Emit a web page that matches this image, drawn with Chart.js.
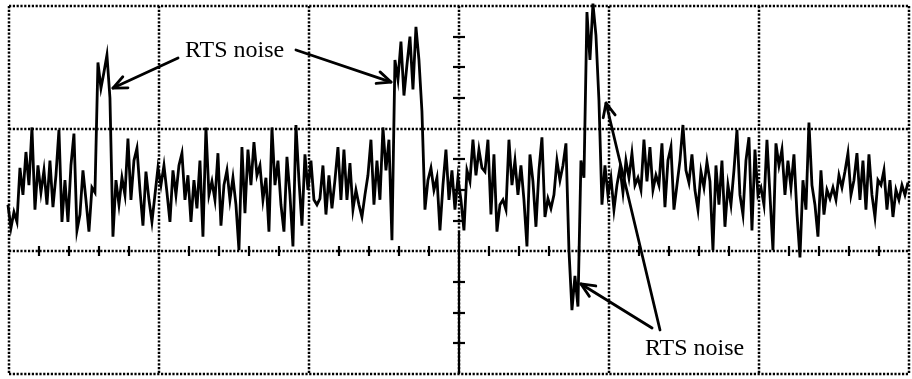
<!DOCTYPE html>
<html>
<head>
<meta charset="utf-8">
<script src="https://cdn.jsdelivr.net/npm/chart.js@4.4.1/dist/chart.umd.min.js"></script>
<style>
    body { margin: 0; background: #fff; }
    #wrap { width: 912px; height: 379px; position: relative; }
</style>
</head>
<body>
<div id="wrap"><canvas id="scopeChart"></canvas></div>
<script>
// scope trace, x in divisions, y in divisions (0 = trace centre)
const timeStart = -0.027;
const timeStep = 0.02;
const trace = [
    0.10, -0.12, -0.31, -0.18, -0.26, 0.18, -0.04, 0.31, 0.04, 0.51,
    -0.16, 0.20, -0.02, 0.16, -0.12, 0.24, -0.14, 0.12, 0.49, -0.26,
    0.08, -0.26, 0.20, 0.46, -0.33, -0.20, 0.16, -0.08, -0.34, 0.02,
    -0.02, 1.04, 0.83, 0.96, 1.10, 0.75, -0.38, 0.08, -0.12, 0.10,
    -0.04, 0.42, -0.08, 0.24, 0.34, 0.00, -0.29, 0.15, -0.08, -0.26,
    -0.04, 0.18, 0.04, 0.20, -0.02, -0.26, 0.16, -0.04, 0.20, 0.30,
    -0.08, 0.12, -0.26, 0.08, -0.15, 0.24, -0.38, 0.51, -0.04, 0.07,
    -0.08, 0.30, -0.29, 0.04, 0.16, -0.08, 0.10, -0.12, -0.49, 0.35,
    -0.19, 0.33, 0.04, 0.39, 0.12, 0.20, -0.08, 0.10, -0.34, 0.51,
    0.04, 0.24, -0.12, -0.34, 0.27, -0.04, -0.46, 0.53, 0.08, -0.29,
    0.29, 0.00, 0.24, -0.08, -0.12, -0.07, 0.20, -0.20, 0.12, -0.15,
    0.08, 0.35, -0.08, 0.33, -0.08, 0.22, -0.16, 0.00, -0.12, -0.22,
    -0.04, 0.12, 0.41, -0.12, 0.24, -0.08, 0.51, 0.16, 0.41, -0.41,
    1.06, 0.90, 1.21, 0.77, 1.02, 1.25, 0.82, 1.33, 1.06, 0.64,
    -0.16, 0.08, 0.18, 0.00, 0.10, -0.33, 0.04, 0.33, -0.08, 0.16,
    -0.16, 0.10, -0.08, -0.33, 0.16, 0.07, 0.41, 0.12, 0.33, 0.18,
    0.15, 0.41, -0.20, 0.29, -0.34, -0.12, -0.08, -0.16, 0.41, 0.04,
    0.24, -0.04, 0.20, -0.08, -0.46, 0.29, 0.07, -0.30, 0.16, 0.43,
    -0.22, -0.07, -0.15, -0.04, 0.24, 0.08, 0.20, 0.38, -0.49, -0.98,
    -0.70, -0.95, 0.24, 0.10, 1.45, 1.06, 1.52, 1.26, 0.73, -0.12,
    0.20, -0.04, 0.10, -0.16, 0.04, 0.18, -0.02, 0.24, 0.10, 0.30,
    0.04, 0.10, 0.00, 0.41, 0.07, 0.35, 0.00, 0.12, 0.04, 0.38,
    -0.14, 0.24, 0.35, -0.16, 0.04, 0.24, 0.53, 0.16, 0.06, 0.29,
    0.00, -0.16, 0.15, 0.02, 0.23, 0.07, -0.49, 0.20, -0.12, 0.24,
    -0.30, 0.04, -0.12, 0.16, 0.49, -0.04, -0.20, 0.24, 0.43, -0.33,
    0.33, -0.04, 0.02, -0.12, 0.41, -0.04, -0.49, 0.38, 0.20, 0.33,
    -0.04, 0.24, 0.02, 0.29, -0.19, -0.55, 0.08, -0.16, 0.55, 0.04,
    -0.12, -0.38, 0.16, -0.20, 0.00, -0.07, 0.02, -0.08, 0.12, 0.02,
    0.15, 0.30, -0.04, 0.08, 0.30, -0.08, 0.24, -0.16, 0.29, -0.04,
    -0.22, 0.08, 0.04, 0.16, -0.16, 0.08, -0.22, 0.00, -0.08, 0.04,
    -0.04, 0.06
];

// graticule
const gridX = [0, 1, 2, 3, 4, 5, 6];
const gridY = [-1.5, -0.5, 0.5, 1.5];
const minorX = [0.2, 0.4, 0.6, 0.8, 1.2, 1.4, 1.6, 1.8, 2.2, 2.4, 2.6, 2.8,
    3.2, 3.4, 3.6, 3.8, 4.2, 4.4, 4.6, 4.8, 5.2, 5.4, 5.6, 5.8];
const minorY = [-1.25, -1, -0.75, -0.25, 0, 0.25, 0.75, 1, 1.25];

// annotations: text anchor and arrow (from -> to) in division units
const labelText = ['RTS noise', 'RTS noise'];
const labelPos = [[1.173, 1.084], [4.24, -1.345]];
const arrows = [
    [1.127, 1.076, 0.693, 0.831],
    [1.913, 1.141, 2.547, 0.880],
    [4.340, -1.141, 3.980, 0.709],
    [4.287, -1.125, 3.813, -0.766]
];

const points = trace.map(function (v, i) {
    return { x: timeStart + i * timeStep, y: v };
});

const graticule = {
    id: 'graticule',
    beforeDatasetsDraw(chart) {
        const ctx = chart.ctx;
        const sx = chart.scales.x, sy = chart.scales.y;
        const top = sy.getPixelForValue(1.5), bottom = sy.getPixelForValue(-1.5);
        const left = sx.getPixelForValue(0), right = sx.getPixelForValue(6);
        ctx.save();
        ctx.strokeStyle = '#000';
        ctx.lineWidth = 2.5;
        ctx.setLineDash([2.2, 1.6]);
        gridX.forEach(function (g) {
            const x = Math.round(sx.getPixelForValue(g));
            ctx.beginPath(); ctx.moveTo(x, top); ctx.lineTo(x, bottom); ctx.stroke();
        });
        gridY.forEach(function (g) {
            const y = Math.round(sy.getPixelForValue(g));
            ctx.beginPath(); ctx.moveTo(left, y); ctx.lineTo(right, y); ctx.stroke();
        });
        ctx.setLineDash([]);
        ctx.lineWidth = 2.2;
        const yBase = Math.round(sy.getPixelForValue(-0.5));
        minorX.forEach(function (m) {
            const x = Math.round(sx.getPixelForValue(m));
            ctx.beginPath(); ctx.moveTo(x, yBase - 5); ctx.lineTo(x, yBase + 5); ctx.stroke();
        });
        const xc = Math.round(sx.getPixelForValue(3));
        minorY.forEach(function (m) {
            const y = Math.round(sy.getPixelForValue(m));
            ctx.beginPath(); ctx.moveTo(xc - 6, y); ctx.lineTo(xc + 6, y); ctx.stroke();
        });
        // solid marker on the centre line
        ctx.beginPath();
        ctx.moveTo(xc, sy.getPixelForValue(-0.34));
        ctx.lineTo(xc, bottom);
        ctx.stroke();
        ctx.restore();
    },
    afterDatasetsDraw(chart) {
        const ctx = chart.ctx;
        const sx = chart.scales.x, sy = chart.scales.y;
        ctx.save();
        ctx.fillStyle = '#000';
        ctx.strokeStyle = '#000';
        ctx.font = '24px "Liberation Serif", "Times New Roman", serif';
        ctx.textBaseline = 'alphabetic';
        labelText.forEach(function (t, i) {
            ctx.fillText(t, sx.getPixelForValue(labelPos[i][0]), sy.getPixelForValue(labelPos[i][1]));
        });
        ctx.lineWidth = 2.8;
        ctx.lineCap = 'round';
        ctx.lineJoin = 'round';
        arrows.forEach(function (a) {
            const x1 = sx.getPixelForValue(a[0]), y1 = sy.getPixelForValue(a[1]);
            const x2 = sx.getPixelForValue(a[2]), y2 = sy.getPixelForValue(a[3]);
            const ang = Math.atan2(y2 - y1, x2 - x1);
            ctx.beginPath(); ctx.moveTo(x1, y1); ctx.lineTo(x2, y2); ctx.stroke();
            ctx.beginPath();
            ctx.moveTo(x2 - 15 * Math.cos(ang - 0.42), y2 - 15 * Math.sin(ang - 0.42));
            ctx.lineTo(x2, y2);
            ctx.lineTo(x2 - 15 * Math.cos(ang + 0.42), y2 - 15 * Math.sin(ang + 0.42));
            ctx.stroke();
        });
        ctx.restore();
    }
};

var ctx = document.getElementById('scopeChart');
var scopeChart = new Chart(ctx, {
    type: 'line',
    data: {
        datasets: [{
            label: 'trace',
            data: points,
            borderColor: '#000',
            borderWidth: 2.8,
            pointRadius: 0,
            tension: 0,
            fill: false,
            clip: false
        }]
    },
    options: {
        responsive: true,
        maintainAspectRatio: false,
        animation: false,
        layout: { padding: { left: 9, right: 3, top: 6, bottom: 5 } },
        plugins: { legend: { display: false }, tooltip: { enabled: false } },
        scales: {
            x: { type: 'linear', min: 0, max: 6, display: false },
            y: { type: 'linear', min: -1.5, max: 1.5, display: false }
        }
    },
    plugins: [graticule]
});
</script>
</body>
</html>
